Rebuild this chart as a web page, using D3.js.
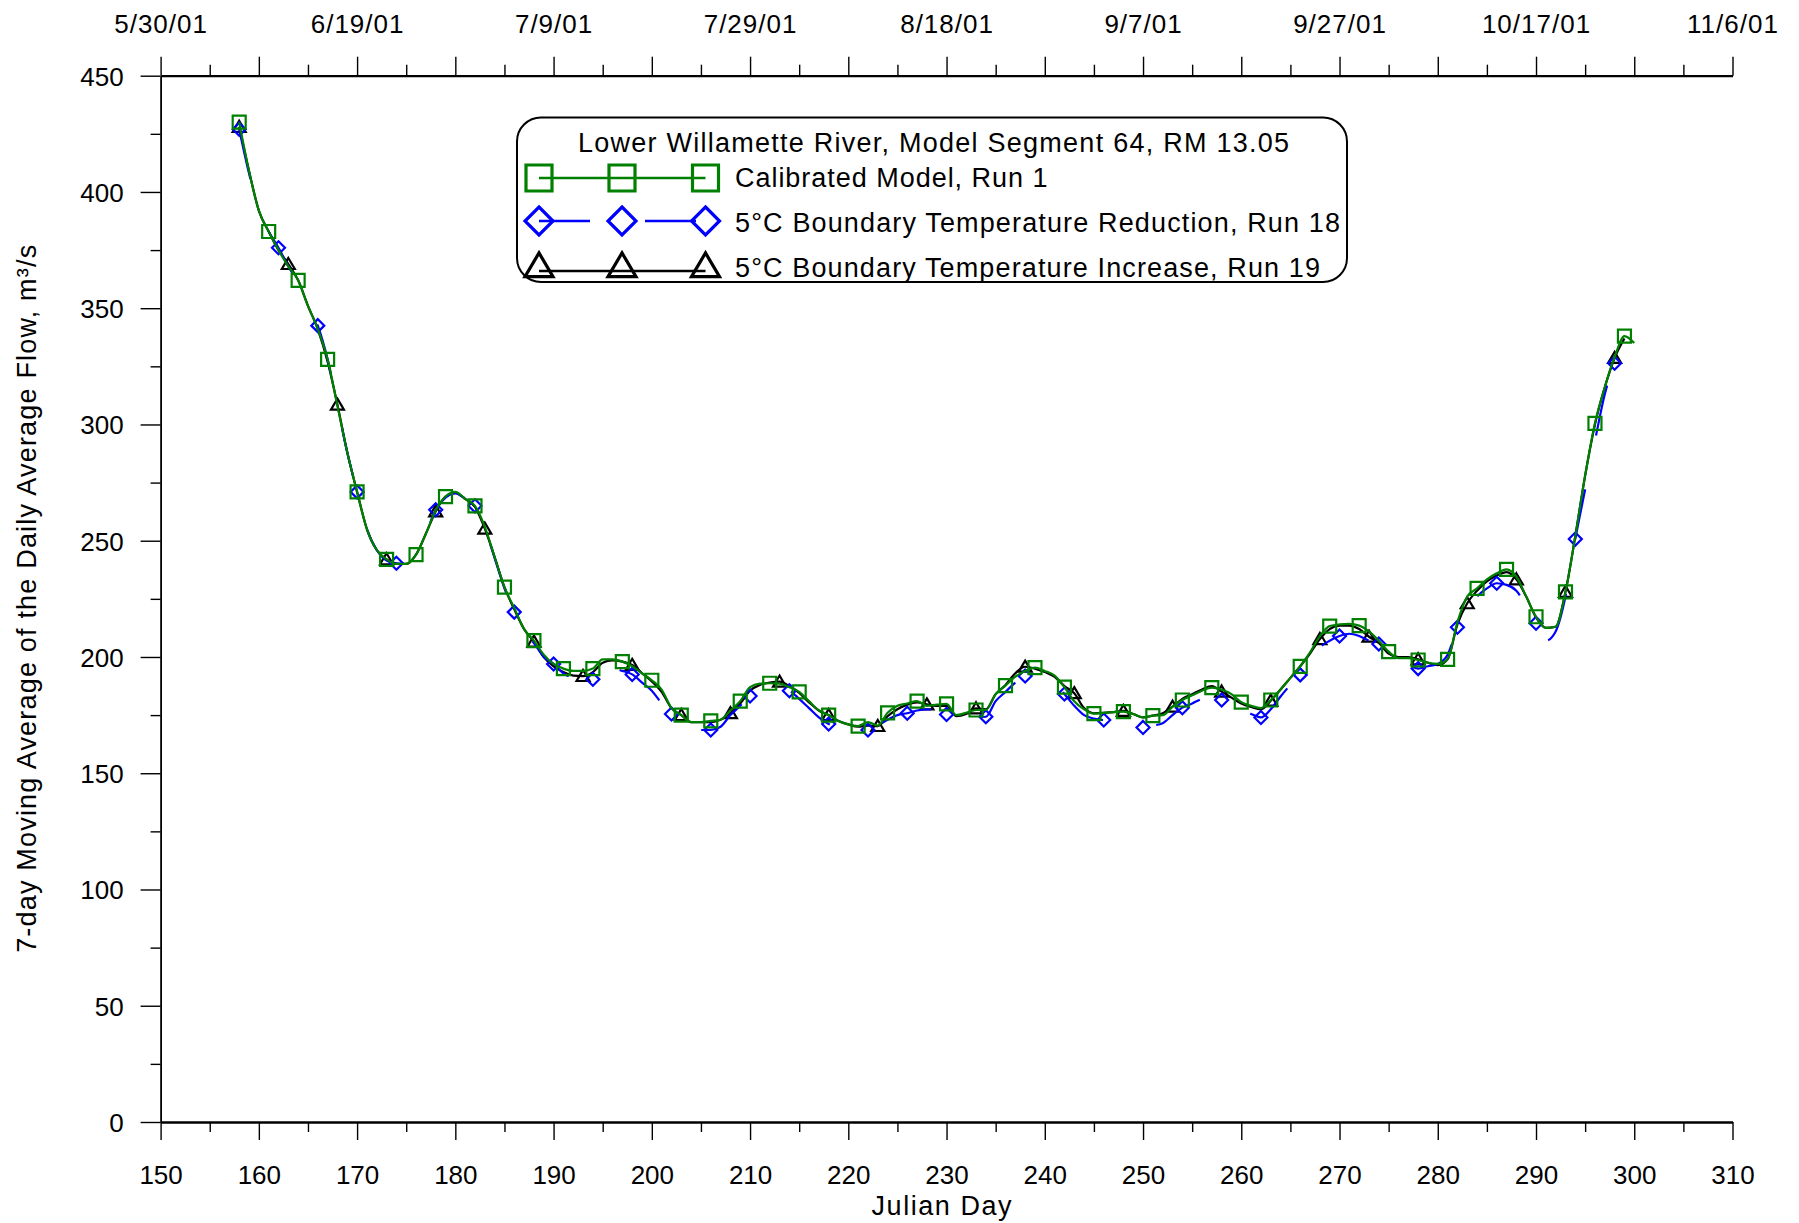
<!DOCTYPE html>
<html>
<head>
<meta charset="utf-8">
<script src="https://cdn.jsdelivr.net/npm/d3@7"></script>
<style>
  html, body { margin: 0; padding: 0; background: #fff; }
  svg { display: block; font-family: "Liberation Sans", Arial, sans-serif; }
</style>
</head>
<body>
<svg id="chart" width="1799" height="1223"></svg>
<script>
// ---------------- data ----------------
const startDay = 158;

const calibratedRun1 = [
  430, 409, 392, 383, 375, 368, 362, 351, 341, 328,
  308, 288, 271, 255, 246, 242, 240, 240, 244, 253,
  263, 269, 271, 268, 265, 256, 243, 230, 221, 212,
  207, 201, 197, 195, 194, 194, 195, 199, 199, 198,
  196, 193, 190, 186, 178, 175, 172, 172, 172.5, 173,
  177, 181, 187, 188.5, 188.7, 188.5, 187, 185, 181, 177,
  175, 172.5, 171, 170.3, 172, 170.5, 176, 179, 180, 181,
  179, 179.5, 179.8, 175, 176, 177.2, 177.2, 184, 187.7, 191.5,
  194, 195.4, 194, 192, 187, 181, 177.5, 175.6, 176, 176.3,
  176.5, 175.5, 174, 174.8, 175, 178.5, 181.5, 183.5, 185.5, 186.8,
  186, 184, 180.6, 179, 178, 181.5, 186, 191, 196, 202,
  209, 213.3, 214, 214.2, 213.5, 211, 207, 202.3, 199.5, 199.5,
  198.7, 197.5, 197, 199, 215, 226, 229.5, 233.4, 236, 237.7,
  234.5, 226, 217.3, 212.5, 213, 228, 252, 278, 300.5, 316,
  329, 338, 335
];

const reductionRun18 = [
  427, 408, 392, 383, 376, 368, 361, 351, 342.5, 328,
  308, 288, 271, 255, 246, 241.5, 240.3, 240, 244, 253,
  263.3, 268.5, 270.5, 268, 265, 255.5, 242.5, 229.5, 219.3, 211,
  206, 200, 197, 193, 191, 190.5, 190.4, 194, 195, 194,
  192.5, 189, 185.5, 180, 175.5, 170, 168.6, 168.6, 168.6, 170,
  175, 179, 183.2, 185.5, 186.5, 186.5, 185.5, 182, 178, 174,
  171.2, 170, 169.5, 169.3, 168.6, 170.5, 173, 175, 175.8, 177,
  177.5, 177, 175.3, 171.5, 172.5, 174, 174.3, 181, 185, 189,
  191.8, 191.5, 190.5, 189, 184.1, 179, 175, 173.5, 172.9, 173,
  173, 171.5, 169.7, 170.5, 171.5, 175, 178.2, 180, 182, 183,
  181.5, 178.5, 177.2, 175.5, 174, 177.5, 183, 188, 192.3, 198,
  204, 207, 209, 210, 209, 207, 205.6, 198.5, 197, 196.5,
  195, 196, 197, 201, 212.8, 220, 226, 229.5, 231.7, 231,
  228.5, 222, 214.5, 207, 211, 226, 250.7, 272, 293, 313,
  326.3, 336
];

const increaseRun19 = [
  428, 409, 392, 383, 375, 369, 362, 351, 341, 327,
  308.5, 288, 271, 255, 246, 242, 240, 240, 244, 253,
  262.6, 269, 270.5, 268, 264.5, 255.2, 243, 230, 220.5, 212,
  206.6, 200, 196, 193.5, 192, 191.8, 193.5, 197.5, 198.5, 198,
  196.6, 193, 189.5, 185, 178, 175, 172, 172, 172, 173,
  175.8, 180, 185.5, 188, 189, 189.4, 187.5, 184.5, 180.5, 177,
  175, 172.5, 171, 170, 170.5, 170.3, 174.5, 177.5, 179.5, 180.5,
  179.6, 179, 179, 174.5, 175.5, 177.9, 177.5, 184, 188, 193,
  195.8, 195, 193.5, 191.5, 187.5, 184.4, 178, 175.8, 176, 176.3,
  176.8, 175.5, 174, 174.8, 175.8, 178.6, 182, 184, 186, 187.5,
  185.1, 182.5, 180, 178.5, 177.5, 181.2, 186, 191, 196, 201.5,
  207.7, 212, 213.5, 213.5, 212, 208.7, 206, 201.5, 200, 200,
  199, 197.5, 196.5, 199, 214, 223.1, 228.5, 232.5, 235, 236.5,
  233.4, 226, 217, 212.5, 213, 228, 252, 278, 300, 316,
  328.6, 337
];

const seriesNames = [
  "Calibrated Model, Run 1",
  "5°C Boundary Temperature Reduction, Run 18",
  "5°C Boundary Temperature Increase, Run 19"
];
const markerEvery = [3, 4, 5];   // a marker is drawn on every n-th daily value

const legendTitle = "Lower Willamette River, Model Segment 64, RM 13.05";

const xTicks = [150, 160, 170, 180, 190, 200, 210, 220, 230, 240, 250, 260, 270, 280, 290, 300, 310];
const xMinorTicks = [155, 165, 175, 185, 195, 205, 215, 225, 235, 245, 255, 265, 275, 285, 295, 305];
const yTicks = [0, 50, 100, 150, 200, 250, 300, 350, 400, 450];
const yMinorTicks = [25, 75, 125, 175, 225, 275, 325, 375, 425];
const dateTickDays = [150, 170, 190, 210, 230, 250, 270, 290, 310];
const dateTickLabels = ["5/30/01", "6/19/01", "7/9/01", "7/29/01", "8/18/01", "9/7/01", "9/27/01", "10/17/01", "11/6/01"];

const xTitle = "Julian Day";
const yTitle = "7-day Moving Average of the Daily Average Flow, m\u00B3/s";

// ---------------- drawing ----------------
const svg = d3.select("#chart");
const L = 160.6, R = 1732.5, T = 75.7, B = 1122;
const x = d3.scaleLinear().domain([150, 310]).range([L, R]);
const y = d3.scaleLinear().domain([0, 450]).range([B, T]);
const FONT = 26;
const TFONT = 27;

function styleAxis(g, lineW, tickW) {
  g.select(".domain").attr("stroke", "#000").attr("stroke-width", lineW);
  g.selectAll(".tick line").attr("stroke", "#000").attr("stroke-width", tickW);
  g.selectAll(".tick text").attr("fill", "#000").attr("font-size", FONT)
    .attr("font-family", '"Liberation Sans", Arial, sans-serif');
}

// bottom axis
const gB = svg.append("g").attr("transform", `translate(0,${B})`)
  .call(d3.axisBottom(x).tickValues(xTicks).tickSize(18).tickSizeOuter(0).tickPadding(26).tickFormat(d3.format("d")));
styleAxis(gB, 2.4, 1.4);
svg.append("g").attr("transform", `translate(0,${B})`)
  .call(d3.axisBottom(x).tickValues(xMinorTicks).tickSize(10).tickSizeOuter(0).tickFormat(""))
  .call(g => { g.select(".domain").remove(); g.selectAll(".tick line").attr("stroke", "#000").attr("stroke-width", 1.4); });

// top axis
const gT = svg.append("g").attr("transform", `translate(0,${T})`)
  .call(d3.axisTop(x).tickValues(xTicks).tickSize(19).tickSizeOuter(0).tickFormat(""));
styleAxis(gT, 2.2, 1.4);
svg.append("g").attr("transform", `translate(0,${T})`)
  .call(d3.axisTop(x).tickValues(xMinorTicks).tickSize(11).tickSizeOuter(0).tickFormat(""))
  .call(g => { g.select(".domain").remove(); g.selectAll(".tick line").attr("stroke", "#000").attr("stroke-width", 1.4); });
const gTL = svg.append("g").attr("transform", `translate(0,${T})`)
  .call(d3.axisTop(x).tickValues(dateTickDays).tickSize(0).tickSizeOuter(0).tickPadding(43)
    .tickFormat((d, i) => dateTickLabels[i]));
gTL.select(".domain").remove();
gTL.selectAll(".tick text").attr("fill", "#000").attr("font-size", FONT).attr("letter-spacing", 1);

// left axis
const gL = svg.append("g").attr("transform", `translate(${L},0)`)
  .call(d3.axisLeft(y).tickValues(yTicks).tickSize(20).tickSizeOuter(0).tickPadding(17));
styleAxis(gL, 1.8, 1.4);
gL.selectAll(".tick text").attr("dy", "0.36em");
svg.append("g").attr("transform", `translate(${L},0)`)
  .call(d3.axisLeft(y).tickValues(yMinorTicks).tickSize(10).tickSizeOuter(0).tickFormat(""))
  .call(g => { g.select(".domain").remove(); g.selectAll(".tick line").attr("stroke", "#000").attr("stroke-width", 1.4); });

// axis titles
svg.append("text").attr("x", (L + R) / 2 - 5).attr("y", 1215).attr("text-anchor", "middle")
  .attr("font-size", TFONT).attr("textLength", 140).attr("lengthAdjust", "spacing").text(xTitle);
svg.append("text").attr("transform", `translate(36,${(T + B) / 2}) rotate(-90)`).attr("text-anchor", "middle")
  .attr("font-size", TFONT).attr("textLength", 708).attr("lengthAdjust", "spacing").text(yTitle);

// series
const series = [
  { name: seriesNames[0], values: calibratedRun1, color: "#008000", marker: "square", every: markerEvery[0], dash: null },
  { name: seriesNames[1], values: reductionRun18, color: "#0000ff", marker: "diamond", every: markerEvery[1], dash: "51,55" },
  { name: seriesNames[2], values: increaseRun19, color: "#000000", marker: "triangle", every: markerEvery[2], dash: null }
];

function markerPath(type, s) {
  const h = s / 2;
  if (type === "square") return `M${-h},${-h}H${h}V${h}H${-h}Z`;
  if (type === "diamond") return `M0,${-h}L${h},0L0,${h}L${-h},0Z`;
  const th = s * 0.85;
  return `M0,${-th * 0.55}L${h},${th * 0.45}L${-h},${th * 0.45}Z`;
}

const line = d3.line().x(d => x(d.day)).y(d => y(d.v)).curve(d3.curveMonotoneX);
const plotOrder = [2, 1, 0];
const gPlot = svg.append("g");
plotOrder.forEach(k => {
  const s = series[k];
  const pts = s.values.map((v, i) => ({ day: startDay + i, v, i }));
  gPlot.append("path").datum(pts).attr("d", line).attr("fill", "none")
    .attr("stroke", s.color).attr("stroke-width", 2.2)
    .attr("stroke-dasharray", s.dash).attr("stroke-linejoin", "round");
  gPlot.append("g").selectAll("path").data(pts.filter(p => p.i % s.every === 0)).join("path")
    .attr("transform", p => `translate(${x(p.day)},${y(p.v)})`)
    .attr("d", markerPath(s.marker, 13))
    .attr("fill", "none").attr("stroke", s.color).attr("stroke-width", 2.2);
});

// legend
const lg = svg.append("g");
lg.append("rect").attr("x", 517).attr("y", 117.5).attr("width", 830).attr("height", 164.5)
  .attr("rx", 24).attr("ry", 24).attr("fill", "#fff").attr("stroke", "#000").attr("stroke-width", 2);
lg.append("text").attr("x", 933.5).attr("y", 152).attr("text-anchor", "middle").attr("font-size", TFONT)
  .attr("textLength", 711).attr("lengthAdjust", "spacing").text(legendTitle);

const symX = [539, 622, 705.5];
const rows = [
  { lineY: 178, symY: 178, base: 187, len: 312.5, size: 26 },
  { lineY: 221, symY: 221, base: 232, len: 605, size: 28 },
  { lineY: 271, symY: 266, base: 276.5, len: 585, size: 28 }
];
series.forEach((s, k) => {
  const r = rows[k];
  lg.append("line").attr("x1", symX[0]).attr("x2", symX[2]).attr("y1", r.lineY).attr("y2", r.lineY)
    .attr("stroke", s.color).attr("stroke-width", 2.6).attr("stroke-dasharray", s.dash);
  symX.forEach(sx => {
    lg.append("path").attr("transform", `translate(${sx},${r.symY})`)
      .attr("d", markerPath(s.marker, r.size)).attr("fill", "none")
      .attr("stroke", s.color).attr("stroke-width", 3.2);
  });
  lg.append("text").attr("x", 735).attr("y", r.base).attr("font-size", TFONT)
    .attr("textLength", r.len).attr("lengthAdjust", "spacing").text(s.name);
});
</script>
</body>
</html>
